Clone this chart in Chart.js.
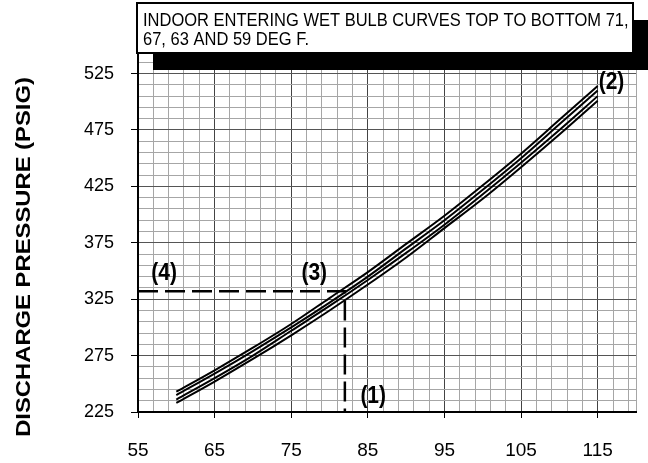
<!DOCTYPE html>
<html>
<head>
<meta charset="utf-8">
<script src="https://cdn.jsdelivr.net/npm/chart.js@4/dist/chart.umd.min.js"></script>
<style>
  html, body { margin: 0; padding: 0; background: #fff; }
  #wrap { width: 648px; height: 463px; }
</style>
</head>
<body>
<div id="wrap"><canvas id="canvas" width="648" height="463"></canvas></div>
<script>
// outdoor temperature (deg F)
var temps = [60, 65, 70, 75, 80, 85, 90, 95, 100, 105, 110, 115];
// discharge pressure for indoor wet bulb 71, 67, 63, 59
var wb71 = [243, 262, 282, 303, 326, 349, 374, 399, 426, 454, 484, 514];
var wb67 = [240, 259, 279, 300, 322, 345, 370, 395, 422, 450, 480, 510];
var wb63 = [236, 255, 275, 297, 319, 342, 366, 391, 418, 446, 475, 505];
var wb59 = [233, 252, 272, 293, 315, 338, 362, 388, 414, 442, 471, 501];

// example reading: dashed guide line
var guideX = [55, 82, 82];
var guideY = [332, 332, 225];

// callout markers
var markText = ['(1)', '(2)', '(3)', '(4)'];
var markX = [85.7, 116.8, 78, 58.4];
var markY = [239, 517, 348, 348];

var xTickLabels = [55, 65, 75, 85, 95, 105, 115];
var yTickLabels = [225, 275, 325, 375, 425, 475, 525];

var noteLines = ['INDOOR ENTERING WET BULB CURVES TOP TO BOTTOM 71,', '67, 63 AND 59 DEG F.'];
var yTitle = 'DISCHARGE PRESSURE (PSIG)';

Chart.defaults.font.family = '"Liberation Sans", Arial, sans-serif';
Chart.defaults.color = '#000';

var xGrid = [];
for (var v = 55; v <= 120; v += 2) xGrid.push(v);
xGrid.push(120);
var yGrid = [];
for (var w = 225; w <= 545; w += 10) yGrid.push(w);

var pts = function (ys) {
    return temps.map(function (t, i) { return {x: t, y: ys[i]}; });
};

var curve = function (label, ys) {
    return {
        label: label,
        data: pts(ys),
        borderColor: '#000',
        borderWidth: 2,
        pointRadius: 0,
        cubicInterpolationMode: 'monotone',
        fill: false
    };
};

// text stretched a bit, the scan is taller than wide
var stretchText = function (ctx, text, x, y, sx, sy) {
    ctx.save();
    ctx.translate(x, y);
    ctx.scale(sx, sy);
    ctx.fillText(text, 0, 0);
    ctx.restore();
};

var extras = {
    id: 'extras',
    afterDraw: function (chart) {
        var ctx = chart.ctx;
        var xs = chart.scales.x, ys = chart.scales.y;
        ctx.save();
        // callouts
        ctx.fillStyle = '#000';
        ctx.font = 'bold 21px "Liberation Sans", Arial, sans-serif';
        ctx.textAlign = 'center';
        ctx.textBaseline = 'middle';
        markText.forEach(function (t, i) {
            stretchText(ctx, t, xs.getPixelForValue(markX[i]), ys.getPixelForValue(markY[i]), 1, 1.12);
        });
        // y title
        ctx.save();
        ctx.translate(24, 257);
        ctx.rotate(-Math.PI / 2);
        ctx.font = 'bold 20px "Liberation Sans", Arial, sans-serif';
        stretchText(ctx, yTitle, 0, 0, 1.19, 1);
        ctx.restore();
        // note box with shadow
        ctx.fillStyle = '#000';
        ctx.fillRect(153, 20, 500, 50);
        ctx.fillStyle = '#fff';
        ctx.fillRect(137, 3, 496, 50);
        ctx.strokeStyle = '#000';
        ctx.lineWidth = 2;
        ctx.strokeRect(137, 3, 496, 50);
        ctx.fillStyle = '#000';
        ctx.textAlign = 'left';
        ctx.textBaseline = 'alphabetic';
        ctx.font = '16.5px "Liberation Sans", Arial, sans-serif';
        stretchText(ctx, noteLines[0], 143, 26, 1, 1.08);
        stretchText(ctx, noteLines[1], 143, 45, 1, 1.08);
        ctx.restore();
    }
};

var config = {type: 'line', plugins: [extras]};
config.data = {
    datasets: [
        curve('71', wb71),
        curve('67', wb67),
        curve('63', wb63),
        curve('59', wb59),
        {
            label: 'guide',
            data: guideX.map(function (x, i) { return {x: x, y: guideY[i]}; }),
            borderColor: '#000',
            borderWidth: 2.5,
            borderDash: [20, 7],
            pointRadius: 0,
            tension: 0,
            fill: false
        }
    ]
};
config.options = {
    responsive: false,
    animation: false,
    layout: {padding: {top: 51, right: 12, left: 0, bottom: 0}},
    plugins: {legend: {display: false}, tooltip: {enabled: false}},
    scales: {
        x: {
            type: 'linear',
            min: 55,
            max: 120,
            afterBuildTicks: function (axis) {
                axis.ticks = xGrid.map(function (v) { return {value: v}; });
            },
            afterFit: function (axis) {
                axis.height = 51;
                axis.paddingLeft = 0;
                axis.paddingRight = 0;
            },
            ticks: {
                autoSkip: false,
                maxRotation: 0,
                padding: 21,
                font: {size: 19},
                callback: function (v) {
                    return xTickLabels.indexOf(v) >= 0 ? String(v) : '';
                }
            },
            grid: {
                tickLength: 6,
                color: function (c) {
                    var v = c.tick ? c.tick.value : 0;
                    return (v - 55) % 10 === 0 && v > 55 ? '#444' : '#a6a6a6';
                },
                tickColor: function (c) {
                    var v = c.tick ? c.tick.value : 0;
                    return xTickLabels.indexOf(v) >= 0 ? '#000' : 'rgba(0,0,0,0)';
                }
            },
            border: {color: '#000', width: 2}
        },
        y: {
            type: 'linear',
            min: 225,
            max: 545,
            afterBuildTicks: function (axis) {
                axis.ticks = yGrid.map(function (v) { return {value: v}; });
            },
            afterFit: function (axis) { axis.width = 138; },
            ticks: {
                autoSkip: false,
                padding: 17,
                font: {size: 18},
                callback: function (v) {
                    return yTickLabels.indexOf(v) >= 0 ? String(v) : '';
                }
            },
            grid: {
                tickLength: 7,
                color: function (c) {
                    var v = c.tick ? c.tick.value : 0;
                    return yTickLabels.indexOf(v) >= 0 && v > 225 ? '#555' : '#a6a6a6';
                },
                tickColor: function (c) {
                    var v = c.tick ? c.tick.value : 0;
                    return yTickLabels.indexOf(v) >= 0 ? '#000' : 'rgba(0,0,0,0)';
                }
            },
            border: {color: '#000', width: 2}
        }
    }
};

var chart = new Chart(document.getElementById('canvas'), config);
</script>
</body>
</html>
